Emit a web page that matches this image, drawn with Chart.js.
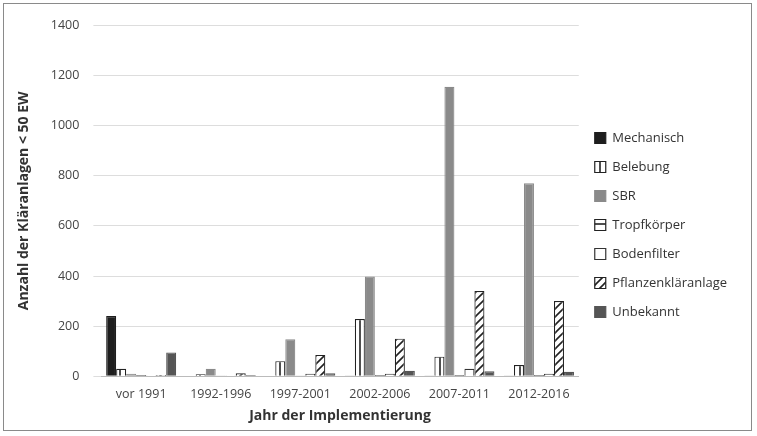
<!DOCTYPE html><html><head><script src="https://cdn.jsdelivr.net/npm/chart.js@4"></script>
<style>body{margin:0;background:#fff}#w{position:absolute;left:3px;top:3px;width:749px;height:428px;border:1.5px solid #8a8a8a;box-sizing:border-box}</style></head><body>
<div id="w"><canvas id="c"></canvas></div>
<script>
const categories=["vor 1991","1992-1996","1997-2001","2002-2006","2007-2011","2012-2016"];
const mechanisch=[240,2,2,3,3,3];
const belebung=[30,8,60,228,78,45];
const sbr=[10,30,148,398,1155,770];
const tropfkoerper=[5,3,3,5,5,5];
const bodenfilter=[3,3,10,10,30,10];
const pflanzen=[5,12,85,150,340,300];
const unbekannt=[95,5,12,22,20,18];
const yTicks=[0,200,400,600,800,1000,1200,1400];

function pat(kind){const c=document.createElement('canvas');c.width=8;c.height=8;const g=c.getContext('2d');g.fillStyle='#fff';g.fillRect(0,0,8,8);g.strokeStyle='#222';g.lineWidth=1.6;g.beginPath();
if(kind==='v'){g.moveTo(4,0);g.lineTo(4,8);}else if(kind==='h'){g.moveTo(0,4);g.lineTo(8,4);}else{g.moveTo(-2,10);g.lineTo(10,-2);g.moveTo(-2,2);g.lineTo(2,-2);g.moveTo(6,10);g.lineTo(10,6);}
g.stroke();return g.createPattern(c,'repeat');}
const ds=(l,d,bg,bc)=>({label:l,data:d,backgroundColor:bg,borderColor:bc,borderWidth:1.2});
new Chart(document.getElementById('c'),{type:'bar',data:{labels:categories,datasets:[
ds('Mechanisch',mechanisch,'#1e1e1e','#1e1e1e'),
ds('Belebung',belebung,pat('v'),'#222'),
ds('SBR',sbr,'#8a8a8a','#8a8a8a'),
ds('Tropfkörper',tropfkoerper,pat('h'),'#222'),
ds('Bodenfilter',bodenfilter,'#fff','#333'),
ds('Pflanzenkläranlage',pflanzen,pat('d'),'#222'),
ds('Unbekannt',unbekannt,'#555','#555')]},
options:{responsive:true,maintainAspectRatio:false,animation:false,
layout:{padding:{left:8,right:14,top:18,bottom:2}},
datasets:{bar:{categoryPercentage:0.88,barPercentage:1}},
plugins:{tooltip:{enabled:false},legend:{position:'right',labels:{font:{family:'Open Sans',size:13},color:'#333',boxWidth:11,boxHeight:11,padding:16}}},
scales:{x:{grid:{display:false},border:{color:'#bbb'},ticks:{font:{family:'Open Sans',size:12.5},color:'#444'},
title:{display:true,text:'Jahr der Implementierung',font:{family:'Open Sans',size:14,weight:'bold'},color:'#333',padding:{top:2}}},
y:{min:0,max:1400,afterBuildTicks:a=>{a.ticks=yTicks.map(v=>({value:v}))},grid:{color:'#ddd'},border:{display:false},ticks:{font:{family:'Open Sans',size:12.5},color:'#444',padding:14,callback:v=>String(v)},
title:{display:true,text:'Anzahl der Kläranlagen < 50 EW',font:{family:'Open Sans',size:14,weight:'bold'},color:'#333'}}}}});
</script></body></html>
